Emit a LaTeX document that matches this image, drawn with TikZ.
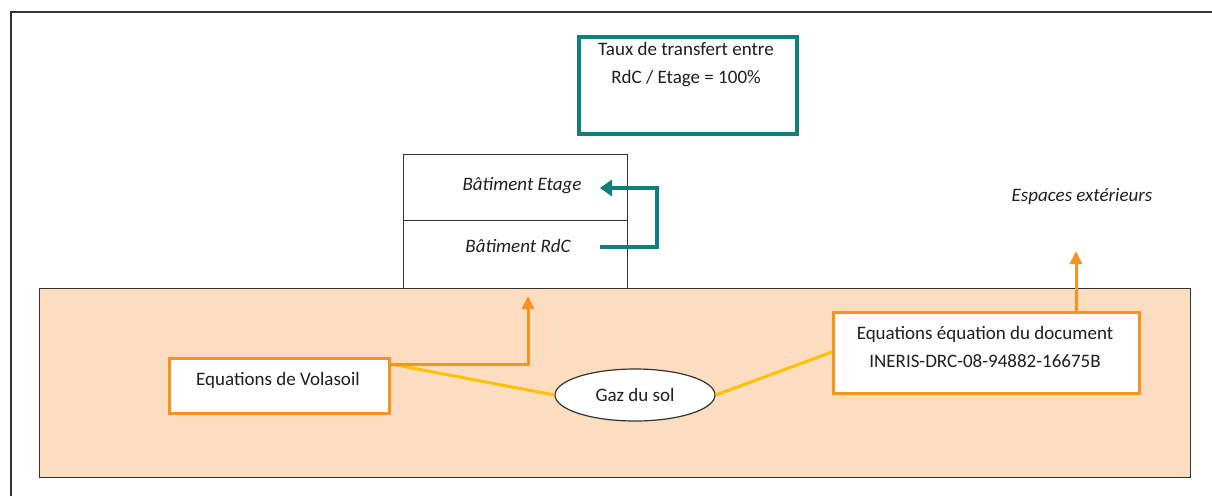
\documentclass[tikz,border=0pt]{standalone}
\usepackage{fontspec}
\setmainfont{Carlito}
\usetikzlibrary{shapes.geometric,arrows.meta}
\definecolor{teal1}{HTML}{0E7F7A}
\definecolor{orng}{HTML}{F7931E}
\definecolor{yel}{HTML}{FFC000}
\definecolor{peach}{HTML}{FCDDBF}
\definecolor{frame}{HTML}{333333}
\begin{document}
\begin{tikzpicture}[x=1pt,y=-1pt,
  txt/.style={font=\fontsize{19}{28}\selectfont, text=black!88},
  itxt/.style={font=\fontsize{19}{28}\selectfont\itshape, text=black!88},
  obox/.style={draw=orng, line width=3pt, fill=white, anchor=north west, inner sep=0pt},
  tarrow/.style={draw=teal1, line width=4pt, -{Triangle[length=12pt,width=16pt]}},
  oarrow/.style={draw=orng, line width=3pt, -{Triangle[length=13pt,width=12pt]}},
  yline/.style={draw=yel, line width=3pt}]
\useasboundingbox (0,0) rectangle (1212,496);
% outer frame
\draw[frame, line width=1.5pt] (11,496) -- (11,12) -- (1212,12);
% ground
\node[draw=frame, line width=1.2pt, fill=peach, minimum width=1151pt, minimum height=189pt, anchor=north west, inner sep=0pt] (ground) at (39,288) {};
% building
\node[draw=frame, line width=1.2pt, fill=white, minimum width=224pt, minimum height=66pt, anchor=north west, inner sep=0pt] (etage) at (403,154) {};
\node[draw=frame, line width=1.2pt, fill=white, minimum width=224pt, minimum height=68pt, anchor=north west, inner sep=0pt] (rdc) at (403,220) {};
\node[itxt] (etagetxt) at (522,186) {Bâtiment Etage};
\node[itxt] (rdctxt) at (518,246) {Bâtiment RdC};
% top box
\node[draw=teal1, line width=4pt, fill=white, minimum width=218pt, minimum height=97pt, anchor=north west, inner sep=0pt] (taux) at (577,35) {};
\node[txt, align=center] (tauxtxt) at (686,65) {Taux de transfert entre\\RdC / Etage = 100\%};
% teal arrow
\coordinate (t1) at (600,247);
\coordinate (t2) at (600,188);
\draw[tarrow] (t1) -- (657,247) -- (657,188) -- (t2);
% exterior
\node[itxt] (ext) at (1082,196) {Espaces extérieurs};
% Volasoil box
\node[obox, minimum width=220pt, minimum height=55pt] (vola) at (168,357) {};
\node[txt] (volatxt) at (278,380) {Equations de Volasoil};
% INERIS box
\node[obox, minimum width=306pt, minimum height=81pt] (ineris) at (832,311) {};
\node[txt, align=center] (ineristxt) at (985,347) {Equations équation du document\\INERIS-DRC-08-94882-16675B};
% Gaz du sol
\node[draw=frame, line width=1.2pt, fill=white, ellipse, minimum width=160pt, minimum height=52pt, inner sep=0pt, txt] (gaz) at (635,395) {Gaz du sol};
% yellow lines
\draw[yline] ([yshift=-7pt]vola.north east) -- (gaz.west);
\draw[yline] (gaz.east) -- ([yshift=-41pt]ineris.north west);
% orange arrows
\coordinate (a1) at (528,296);
\draw[oarrow] ([yshift=-7pt]vola.north east) -- (528,364) -- (a1);
\coordinate (a2) at (1076,251);
\draw[oarrow] (ineris.north west -| a2) -- (a2);
\end{tikzpicture}
\end{document}
